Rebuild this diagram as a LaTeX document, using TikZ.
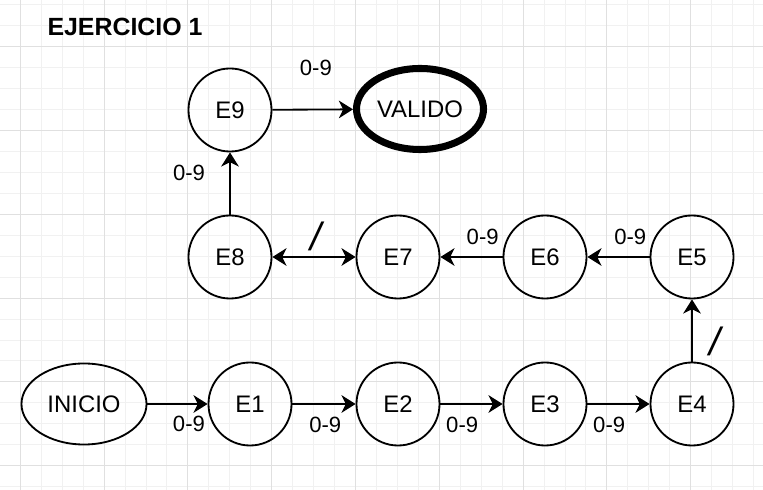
\documentclass[tikz,border=0pt]{standalone}
\usepackage{fontspec}
\setmainfont{Liberation Sans}
\usetikzlibrary{arrows.meta,shapes.geometric}
\definecolor{gridminor}{HTML}{F1F1F1}
\definecolor{gridmajor}{HTML}{E0E0E0}
\tikzset{
  estado/.style={draw, circle, line width=1.3pt, minimum size=2.075cm, inner sep=0pt,
    font=\fontsize{17}{20}\selectfont},
  inicial/.style={draw, ellipse, line width=1.3pt, minimum width=3.125cm,
    minimum height=2.025cm, inner sep=0pt, font=\fontsize{17}{20}\selectfont},
  final/.style={draw, ellipse, line width=5pt, minimum width=3.175cm,
    minimum height=2.025cm, inner sep=0pt, font=\fontsize{17}{20}\selectfont},
  lbl/.style={inner sep=0pt, font=\fontsize{15.7}{18}\selectfont},
  barra/.style={inner sep=0pt, font=\fontsize{28}{32}\selectfont\itshape},
}
\begin{document}
\begin{tikzpicture}[x=0.025cm, y=-0.025cm,
    >={Stealth[length=10pt,width=12.5pt,inset=3pt]}]
      \useasboundingbox (0,0) rectangle (763,490);
      % grid
      \begin{scope}
        \clip (0,0) rectangle (763,490);
        \foreach \k in {-3,...,37}
          \draw[gridminor, line width=0.7pt] ({20.3+20.95*\k},0) -- ({20.3+20.95*\k},490);
        \foreach \k in {-3,...,22}
          \draw[gridminor, line width=0.7pt] (0,{46.7+20.95*\k}) -- (763,{46.7+20.95*\k});
        \foreach \k in {0,...,9}
          \draw[gridmajor, line width=0.7pt] ({20.3+83.8*\k},0) -- ({20.3+83.8*\k},490);
        \foreach \k in {-1,...,5}
          \draw[gridmajor, line width=0.7pt] (0,{46.7+83.8*\k}) -- (763,{46.7+83.8*\k});
      \end{scope}
      \node[font=\bfseries\fontsize{17.7}{21}\selectfont] (titulo) at (125,27) {EJERCICIO 1};
      \draw
        (84,404) node[inicial] (inicio){INICIO}
        (250,404) node[estado] (e1){E1}
        (398,404) node[estado] (e2){E2}
        (545,404) node[estado] (e3){E3}
        (692,404) node[estado] (e4){E4}
        (692,257) node[estado] (e5){E5}
        (545,257) node[estado] (e6){E6}
        (398,257) node[estado] (e7){E7}
        (230,257) node[estado] (e8){E8}
        (230,110) node[estado] (e9){E9}
        (420,109) node[final] (valido){VALIDO};
      \begin{scope}[->, line width=1.3pt]
        \draw (inicio) to node[lbl, pos=0.69, yshift=-0.5cm] (l1){0-9} (e1);
        \draw (e1) to node[lbl, pos=0.52, yshift=-0.525cm] (l2){0-9} (e2);
        \draw (e2) to node[lbl, pos=0.35, yshift=-0.525cm] (l3){0-9} (e3);
        \draw (e3) to node[lbl, pos=0.35, yshift=-0.525cm] (l4){0-9} (e4);
        \draw (e4) to node[barra, pos=0.33, xshift=0.575cm] (l5){/} (e5);
        \draw (e5) to node[lbl, pos=0.31, yshift=0.5cm] (l6){0-9} (e6);
        \draw (e6) to node[lbl, pos=0.32, yshift=0.5cm] (l7){0-9} (e7);
        \draw[<->] (e8) to node[barra, pos=0.52, yshift=0.525cm] (l8){/} (e7);
        \draw (e8) to node[lbl, pos=0.67, xshift=-1.025cm] (l9){0-9} (e9);
        \draw (e9) to node[lbl, pos=0.54, yshift=1.05cm] (l10){0-9} (valido);
      \end{scope}
    \end{tikzpicture}
\end{document}
